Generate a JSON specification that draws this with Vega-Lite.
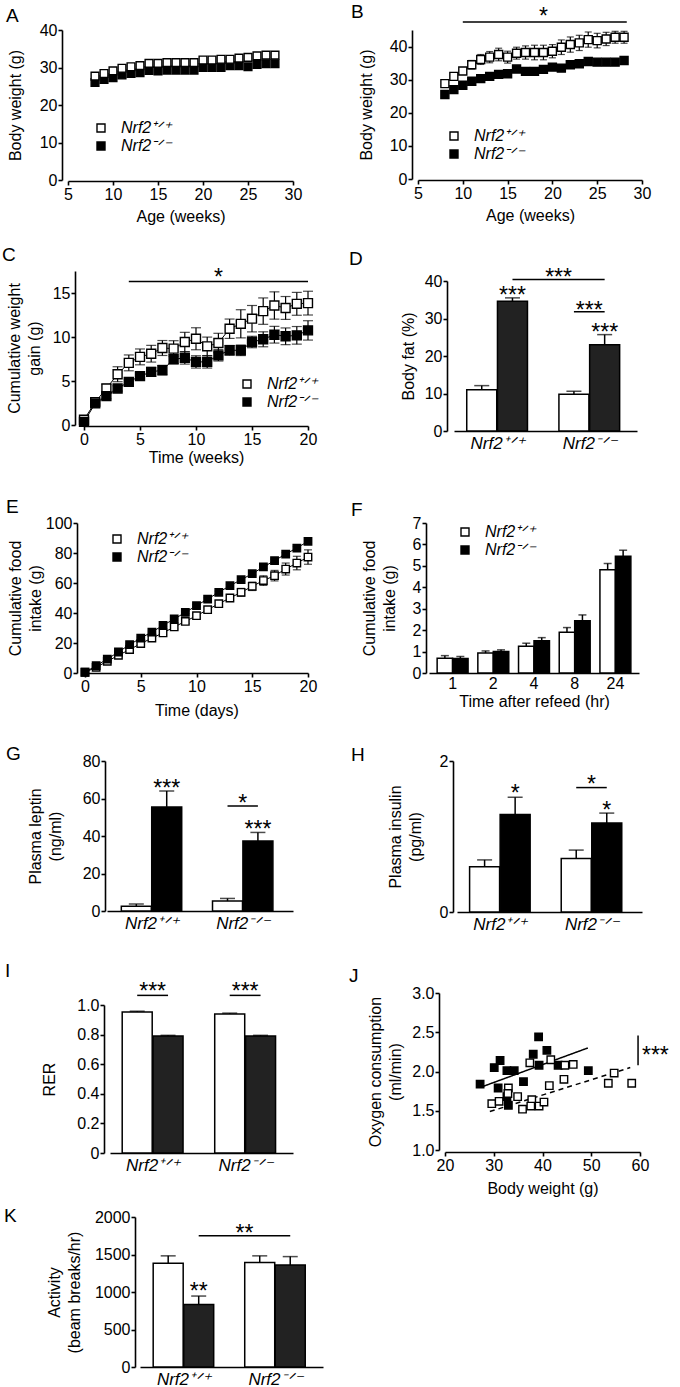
{
"$schema":"https://vega.github.io/schema/vega-lite/v6.json",
"background":"white","padding":0,"bounds":"flush","spacing":0,
"resolve":{"scale":{"fill":"independent","strokeDash":"independent"},"legend":{"fill":"independent","strokeDash":"independent"}},
"datasets":{
"A":[{"week":8,"genotype":"Nrf2-/-","bw":26.0},{"week":9,"genotype":"Nrf2-/-","bw":26.8},{"week":10,"genotype":"Nrf2-/-","bw":27.3},{"week":11,"genotype":"Nrf2-/-","bw":28.0},{"week":12,"genotype":"Nrf2-/-","bw":28.4},{"week":13,"genotype":"Nrf2-/-","bw":28.6},{"week":14,"genotype":"Nrf2-/-","bw":29.2},{"week":15,"genotype":"Nrf2-/-","bw":29.1},{"week":16,"genotype":"Nrf2-/-","bw":29.3},{"week":17,"genotype":"Nrf2-/-","bw":29.3},{"week":18,"genotype":"Nrf2-/-","bw":29.3},{"week":19,"genotype":"Nrf2-/-","bw":29.3},{"week":20,"genotype":"Nrf2-/-","bw":30.0},{"week":21,"genotype":"Nrf2-/-","bw":30.0},{"week":22,"genotype":"Nrf2-/-","bw":30.0},{"week":23,"genotype":"Nrf2-/-","bw":30.5},{"week":24,"genotype":"Nrf2-/-","bw":30.5},{"week":25,"genotype":"Nrf2-/-","bw":30.2},{"week":26,"genotype":"Nrf2-/-","bw":30.8},{"week":27,"genotype":"Nrf2-/-","bw":31.0},{"week":28,"genotype":"Nrf2-/-","bw":31.0},
{"week":8,"genotype":"Nrf2+/+","bw":27.7},{"week":9,"genotype":"Nrf2+/+","bw":28.4},{"week":10,"genotype":"Nrf2+/+","bw":29.1},{"week":11,"genotype":"Nrf2+/+","bw":29.8},{"week":12,"genotype":"Nrf2+/+","bw":30.2},{"week":13,"genotype":"Nrf2+/+","bw":30.5},{"week":14,"genotype":"Nrf2+/+","bw":31.1},{"week":15,"genotype":"Nrf2+/+","bw":31.1},{"week":16,"genotype":"Nrf2+/+","bw":31.3},{"week":17,"genotype":"Nrf2+/+","bw":31.3},{"week":18,"genotype":"Nrf2+/+","bw":31.3},{"week":19,"genotype":"Nrf2+/+","bw":31.3},{"week":20,"genotype":"Nrf2+/+","bw":32.0},{"week":21,"genotype":"Nrf2+/+","bw":32.0},{"week":22,"genotype":"Nrf2+/+","bw":32.2},{"week":23,"genotype":"Nrf2+/+","bw":32.2},{"week":24,"genotype":"Nrf2+/+","bw":32.5},{"week":25,"genotype":"Nrf2+/+","bw":32.7},{"week":26,"genotype":"Nrf2+/+","bw":33.1},{"week":27,"genotype":"Nrf2+/+","bw":33.3},{"week":28,"genotype":"Nrf2+/+","bw":33.3}],
"B":[{"week":8,"genotype":"Nrf2+/+","bw":28.8,"err":0.6},{"week":9,"genotype":"Nrf2+/+","bw":31.0,"err":0.8},{"week":10,"genotype":"Nrf2+/+","bw":32.6,"err":1.0},{"week":11,"genotype":"Nrf2+/+","bw":34.5,"err":1.3},{"week":12,"genotype":"Nrf2+/+","bw":36.1,"err":1.5},{"week":13,"genotype":"Nrf2+/+","bw":36.8,"err":1.7},{"week":14,"genotype":"Nrf2+/+","bw":37.6,"err":1.9},{"week":15,"genotype":"Nrf2+/+","bw":36.8,"err":1.8},{"week":16,"genotype":"Nrf2+/+","bw":38.0,"err":1.8},{"week":17,"genotype":"Nrf2+/+","bw":38.2,"err":2.0},{"week":18,"genotype":"Nrf2+/+","bw":38.2,"err":2.2},{"week":19,"genotype":"Nrf2+/+","bw":38.2,"err":2.2},{"week":20,"genotype":"Nrf2+/+","bw":38.6,"err":2.0},{"week":21,"genotype":"Nrf2+/+","bw":39.8,"err":2.2},{"week":22,"genotype":"Nrf2+/+","bw":40.6,"err":2.3},{"week":23,"genotype":"Nrf2+/+","bw":41.1,"err":2.3},{"week":24,"genotype":"Nrf2+/+","bw":42.1,"err":2.3},{"week":25,"genotype":"Nrf2+/+","bw":41.8,"err":2.2},{"week":26,"genotype":"Nrf2+/+","bw":42.3,"err":2.0},{"week":27,"genotype":"Nrf2+/+","bw":42.8,"err":1.8},{"week":28,"genotype":"Nrf2+/+","bw":42.8,"err":1.8},
{"week":8,"genotype":"Nrf2-/-","bw":25.5,"err":0.5},{"week":9,"genotype":"Nrf2-/-","bw":27.0,"err":0.6},{"week":10,"genotype":"Nrf2-/-","bw":28.3,"err":0.7},{"week":11,"genotype":"Nrf2-/-","bw":29.5,"err":0.7},{"week":12,"genotype":"Nrf2-/-","bw":30.3,"err":0.8},{"week":13,"genotype":"Nrf2-/-","bw":31.0,"err":0.8},{"week":14,"genotype":"Nrf2-/-","bw":31.6,"err":0.8},{"week":15,"genotype":"Nrf2-/-","bw":31.8,"err":0.8},{"week":16,"genotype":"Nrf2-/-","bw":33.2,"err":0.8},{"week":17,"genotype":"Nrf2-/-","bw":32.5,"err":0.9},{"week":18,"genotype":"Nrf2-/-","bw":32.5,"err":0.9},{"week":19,"genotype":"Nrf2-/-","bw":33.1,"err":0.9},{"week":20,"genotype":"Nrf2-/-","bw":33.8,"err":0.9},{"week":21,"genotype":"Nrf2-/-","bw":33.5,"err":0.9},{"week":22,"genotype":"Nrf2-/-","bw":34.5,"err":0.9},{"week":23,"genotype":"Nrf2-/-","bw":34.8,"err":0.9},{"week":24,"genotype":"Nrf2-/-","bw":35.5,"err":0.9},{"week":25,"genotype":"Nrf2-/-","bw":35.3,"err":0.9},{"week":26,"genotype":"Nrf2-/-","bw":35.3,"err":0.9},{"week":27,"genotype":"Nrf2-/-","bw":35.3,"err":0.9},{"week":28,"genotype":"Nrf2-/-","bw":35.8,"err":0.9}],
"Bsig":[{"week":10,"week2":28.3,"bw":47.4}],
"Btxt":[{"week":19,"bw":46.7,"label":"*"}],
"C":[{"week":0,"genotype":"Nrf2+/+","gain":0.6,"err":0.1},{"week":1,"genotype":"Nrf2+/+","gain":2.6,"err":0.2},{"week":2,"genotype":"Nrf2+/+","gain":4.15,"err":0.47},{"week":3,"genotype":"Nrf2+/+","gain":5.77,"err":0.85},{"week":4,"genotype":"Nrf2+/+","gain":7.06,"err":0.9},{"week":5,"genotype":"Nrf2+/+","gain":7.74,"err":0.9},{"week":6,"genotype":"Nrf2+/+","gain":8.1,"err":0.95},{"week":7,"genotype":"Nrf2+/+","gain":8.75,"err":0.85},{"week":8,"genotype":"Nrf2+/+","gain":8.68,"err":0.9},{"week":9,"genotype":"Nrf2+/+","gain":9.43,"err":1.1},{"week":10,"genotype":"Nrf2+/+","gain":9.8,"err":1.25},{"week":11,"genotype":"Nrf2+/+","gain":8.94,"err":1.05},{"week":12,"genotype":"Nrf2+/+","gain":9.32,"err":1.1},{"week":13,"genotype":"Nrf2+/+","gain":10.94,"err":1.1},{"week":14,"genotype":"Nrf2+/+","gain":11.5,"err":1.6},{"week":15,"genotype":"Nrf2+/+","gain":12.08,"err":1.5},{"week":16,"genotype":"Nrf2+/+","gain":12.94,"err":1.5},{"week":17,"genotype":"Nrf2+/+","gain":13.58,"err":1.55},{"week":18,"genotype":"Nrf2+/+","gain":13.3,"err":1.3},{"week":19,"genotype":"Nrf2+/+","gain":13.77,"err":1.3},{"week":20,"genotype":"Nrf2+/+","gain":13.85,"err":1.35},
{"week":0,"genotype":"Nrf2-/-","gain":0.35,"err":0.1},{"week":1,"genotype":"Nrf2-/-","gain":2.45,"err":0.2},{"week":2,"genotype":"Nrf2-/-","gain":3.28,"err":0.3},{"week":3,"genotype":"Nrf2-/-","gain":4.15,"err":0.3},{"week":4,"genotype":"Nrf2-/-","gain":4.9,"err":0.3},{"week":5,"genotype":"Nrf2-/-","gain":5.55,"err":0.35},{"week":6,"genotype":"Nrf2-/-","gain":6.04,"err":0.5},{"week":7,"genotype":"Nrf2-/-","gain":6.23,"err":0.55},{"week":8,"genotype":"Nrf2-/-","gain":7.47,"err":0.5},{"week":9,"genotype":"Nrf2-/-","gain":7.62,"err":0.7},{"week":10,"genotype":"Nrf2-/-","gain":7.17,"err":0.7},{"week":11,"genotype":"Nrf2-/-","gain":7.17,"err":0.7},{"week":12,"genotype":"Nrf2-/-","gain":7.92,"err":0.65},{"week":13,"genotype":"Nrf2-/-","gain":8.49,"err":0.55},{"week":14,"genotype":"Nrf2-/-","gain":8.49,"err":0.6},{"week":15,"genotype":"Nrf2-/-","gain":9.43,"err":0.65},{"week":16,"genotype":"Nrf2-/-","gain":9.74,"err":0.85},{"week":17,"genotype":"Nrf2-/-","gain":10.26,"err":0.95},{"week":18,"genotype":"Nrf2-/-","gain":10.08,"err":0.95},{"week":19,"genotype":"Nrf2-/-","gain":10.19,"err":1.0},{"week":20,"genotype":"Nrf2-/-","gain":10.75,"err":1.1}],
"Csig":[{"week":4,"week2":20,"gain":16.3}],
"Ctxt":[{"week":12,"gain":15.9,"label":"*"}],
"D":[{"slot":1,"genotype":"Nrf2+/+","diet":"Chow","fat":11.0,"upper":12.1},{"slot":2,"genotype":"Nrf2+/+","diet":"HFD","fat":34.6,"upper":35.5},{"slot":4,"genotype":"Nrf2-/-","diet":"Chow","fat":9.8,"upper":10.6},{"slot":5,"genotype":"Nrf2-/-","diet":"HFD","fat":23.0,"upper":25.7}],
"Dsig":[{"slot":2,"slot2":5,"fat":40.4},{"slot":4,"slot2":5,"fat":31.8}],
"Dtxt":[{"slot":2,"fat":34.1,"label":"***"},{"slot":3.5,"fat":39.0,"label":"***"},{"slot":4.5,"fat":30.1,"label":"***"},{"slot":5,"fat":24.3,"label":"***"}],
"E":[{"day":0,"genotype":"Nrf2+/+","intake":0.5,"err":0.3},{"day":1,"genotype":"Nrf2+/+","intake":3.8,"err":0.5},{"day":2,"genotype":"Nrf2+/+","intake":7.8,"err":0.6},{"day":3,"genotype":"Nrf2+/+","intake":11.8,"err":0.8},{"day":4,"genotype":"Nrf2+/+","intake":15.6,"err":0.9},{"day":5,"genotype":"Nrf2+/+","intake":19.6,"err":1.0},{"day":6,"genotype":"Nrf2+/+","intake":23.3,"err":1.1},{"day":7,"genotype":"Nrf2+/+","intake":26.7,"err":1.2},{"day":8,"genotype":"Nrf2+/+","intake":30.7,"err":1.3},{"day":9,"genotype":"Nrf2+/+","intake":34.4,"err":1.4},{"day":10,"genotype":"Nrf2+/+","intake":38.2,"err":1.5},{"day":11,"genotype":"Nrf2+/+","intake":42.2,"err":1.7},{"day":12,"genotype":"Nrf2+/+","intake":46.2,"err":2.0},{"day":13,"genotype":"Nrf2+/+","intake":50.0,"err":2.3},{"day":14,"genotype":"Nrf2+/+","intake":53.8,"err":2.6},{"day":15,"genotype":"Nrf2+/+","intake":57.8,"err":2.8},{"day":16,"genotype":"Nrf2+/+","intake":61.6,"err":3.2},{"day":17,"genotype":"Nrf2+/+","intake":64.9,"err":3.5},{"day":18,"genotype":"Nrf2+/+","intake":69.3,"err":4.0},{"day":19,"genotype":"Nrf2+/+","intake":73.3,"err":4.5},{"day":20,"genotype":"Nrf2+/+","intake":77.3,"err":4.8},
{"day":0,"genotype":"Nrf2-/-","intake":0.5,"err":0.3},{"day":1,"genotype":"Nrf2-/-","intake":4.9,"err":0.4},{"day":2,"genotype":"Nrf2-/-","intake":9.3,"err":0.5},{"day":3,"genotype":"Nrf2-/-","intake":14.0,"err":0.5},{"day":4,"genotype":"Nrf2-/-","intake":18.9,"err":0.5},{"day":5,"genotype":"Nrf2-/-","intake":23.3,"err":0.6},{"day":6,"genotype":"Nrf2-/-","intake":27.3,"err":0.6},{"day":7,"genotype":"Nrf2-/-","intake":31.8,"err":0.6},{"day":8,"genotype":"Nrf2-/-","intake":36.0,"err":0.7},{"day":9,"genotype":"Nrf2-/-","intake":40.4,"err":0.7},{"day":10,"genotype":"Nrf2-/-","intake":44.9,"err":0.7},{"day":11,"genotype":"Nrf2-/-","intake":49.3,"err":0.8},{"day":12,"genotype":"Nrf2-/-","intake":53.8,"err":0.8},{"day":13,"genotype":"Nrf2-/-","intake":58.2,"err":0.8},{"day":14,"genotype":"Nrf2-/-","intake":62.2,"err":0.9},{"day":15,"genotype":"Nrf2-/-","intake":66.2,"err":0.9},{"day":16,"genotype":"Nrf2-/-","intake":70.7,"err":0.9},{"day":17,"genotype":"Nrf2-/-","intake":74.9,"err":1.0},{"day":18,"genotype":"Nrf2-/-","intake":79.3,"err":1.0},{"day":19,"genotype":"Nrf2-/-","intake":83.3,"err":1.0},{"day":20,"genotype":"Nrf2-/-","intake":87.8,"err":1.0}],
"F":[{"time":"1","genotype":"Nrf2+/+","intake":0.69,"upper":0.81},{"time":"1","genotype":"Nrf2-/-","intake":0.68,"upper":0.77},{"time":"2","genotype":"Nrf2+/+","intake":0.93,"upper":1.03},{"time":"2","genotype":"Nrf2-/-","intake":1.0,"upper":1.08},{"time":"4","genotype":"Nrf2+/+","intake":1.25,"upper":1.39},{"time":"4","genotype":"Nrf2-/-","intake":1.5,"upper":1.65},{"time":"8","genotype":"Nrf2+/+","intake":1.9,"upper":2.12},{"time":"8","genotype":"Nrf2-/-","intake":2.44,"upper":2.71},{"time":"24","genotype":"Nrf2+/+","intake":4.82,"upper":5.11},{"time":"24","genotype":"Nrf2-/-","intake":5.45,"upper":5.73}],
"G":[{"slot":1,"genotype":"Nrf2+/+","diet":"Chow","leptin":2.6,"upper":3.7},{"slot":2,"genotype":"Nrf2+/+","diet":"HFD","leptin":55.5,"upper":64.0},{"slot":4,"genotype":"Nrf2-/-","diet":"Chow","leptin":5.3,"upper":6.7},{"slot":5,"genotype":"Nrf2-/-","diet":"HFD","leptin":37.4,"upper":41.9}],
"Gsig":[{"slot":4,"slot2":5,"leptin":56.0}],
"Gtxt":[{"slot":2,"leptin":61.5,"label":"***"},{"slot":4.5,"leptin":53.3,"label":"*"},{"slot":5,"leptin":39.3,"label":"***"}],
"H":[{"slot":1,"genotype":"Nrf2+/+","diet":"Chow","insulin":0.6,"upper":0.69},{"slot":2,"genotype":"Nrf2+/+","diet":"HFD","insulin":1.29,"upper":1.52},{"slot":4,"genotype":"Nrf2-/-","diet":"Chow","insulin":0.71,"upper":0.82},{"slot":5,"genotype":"Nrf2-/-","diet":"HFD","insulin":1.18,"upper":1.31}],
"Hsig":[{"slot":4,"slot2":5,"insulin":1.648}],
"Htxt":[{"slot":2,"insulin":1.473,"label":"*"},{"slot":4.5,"insulin":1.592,"label":"*"},{"slot":5,"insulin":1.248,"label":"*"}],
"I":[{"slot":1,"genotype":"Nrf2+/+","diet":"Chow","rer":0.953,"upper":0.958},{"slot":2,"genotype":"Nrf2+/+","diet":"HFD","rer":0.79,"upper":0.795},{"slot":4,"genotype":"Nrf2-/-","diet":"Chow","rer":0.94,"upper":0.945},{"slot":5,"genotype":"Nrf2-/-","diet":"HFD","rer":0.79,"upper":0.795}],
"Isig":[{"slot":1,"slot2":2,"rer":1.065},{"slot":4,"slot2":5,"rer":1.065}],
"Itxt":[{"slot":1.5,"rer":1.041,"label":"***"},{"slot":4.5,"rer":1.041,"label":"***"}],
"J":[{"bw":27.2,"o2":1.84,"genotype":"Nrf2-/-"},{"bw":30.1,"o2":2.05,"genotype":"Nrf2-/-"},{"bw":31.3,"o2":2.14,"genotype":"Nrf2-/-"},{"bw":30.9,"o2":1.79,"genotype":"Nrf2-/-"},{"bw":32.7,"o2":2.01,"genotype":"Nrf2-/-"},{"bw":34.2,"o2":2.01,"genotype":"Nrf2-/-"},{"bw":32.7,"o2":1.68,"genotype":"Nrf2-/-"},{"bw":33.0,"o2":1.57,"genotype":"Nrf2-/-"},{"bw":36.1,"o2":1.87,"genotype":"Nrf2-/-"},{"bw":38.1,"o2":2.22,"genotype":"Nrf2-/-"},{"bw":39.2,"o2":2.44,"genotype":"Nrf2-/-"},{"bw":40.9,"o2":2.27,"genotype":"Nrf2-/-"},{"bw":39.3,"o2":2.08,"genotype":"Nrf2-/-"},{"bw":43.2,"o2":2.08,"genotype":"Nrf2-/-"},{"bw":49.4,"o2":2.01,"genotype":"Nrf2-/-"},
{"bw":29.6,"o2":1.59,"genotype":"Nrf2+/+"},{"bw":31.1,"o2":1.62,"genotype":"Nrf2+/+"},{"bw":33.0,"o2":1.79,"genotype":"Nrf2+/+"},{"bw":32.9,"o2":1.72,"genotype":"Nrf2+/+"},{"bw":34.9,"o2":1.68,"genotype":"Nrf2+/+"},{"bw":35.9,"o2":1.52,"genotype":"Nrf2+/+"},{"bw":37.8,"o2":1.64,"genotype":"Nrf2+/+"},{"bw":37.6,"o2":1.56,"genotype":"Nrf2+/+"},{"bw":39.3,"o2":1.56,"genotype":"Nrf2+/+"},{"bw":40.3,"o2":1.61,"genotype":"Nrf2+/+"},{"bw":37.4,"o2":2.11,"genotype":"Nrf2+/+"},{"bw":41.7,"o2":2.15,"genotype":"Nrf2+/+"},{"bw":44.6,"o2":2.08,"genotype":"Nrf2+/+"},{"bw":46.3,"o2":2.09,"genotype":"Nrf2+/+"},{"bw":41.4,"o2":1.82,"genotype":"Nrf2+/+"},{"bw":44.4,"o2":1.90,"genotype":"Nrf2+/+"},{"bw":53.5,"o2":1.85,"genotype":"Nrf2+/+"},{"bw":54.7,"o2":1.98,"genotype":"Nrf2+/+"},{"bw":58.3,"o2":1.85,"genotype":"Nrf2+/+"}],
"Jfit":[{"bw":27.8,"o2":1.81,"genotype":"Nrf2-/-"},{"bw":49.3,"o2":2.30,"genotype":"Nrf2-/-"},{"bw":29.2,"o2":1.49,"genotype":"Nrf2+/+"},{"bw":58.0,"o2":2.05,"genotype":"Nrf2+/+"}],
"Jsig":[{"bw":59.6,"o2":2.46,"o2b":2.08}],
"Jtxt":[{"bw":60.4,"o2":2.106,"label":"***"}],
"K":[{"slot":1,"genotype":"Nrf2+/+","diet":"Chow","activity":1384,"upper":1482},{"slot":2,"genotype":"Nrf2+/+","diet":"HFD","activity":835,"upper":946},{"slot":4,"genotype":"Nrf2-/-","diet":"Chow","activity":1392,"upper":1482},{"slot":5,"genotype":"Nrf2-/-","diet":"HFD","activity":1361,"upper":1472}],
"Ksig":[{"slot":2,"slot2":5,"activity":1750}],
"Ktxt":[{"slot":2,"activity":904,"label":"**"},{"slot":3.5,"activity":1676,"label":"**"}]
},
"vconcat":[
{"width":1,"height":30,"data":{"values":[]},"mark":"point"},
{"hconcat":[{"width":68,"height":1,"data":{"values":[]},"mark":"point"},
{"width":225,"height":150,"title":{"text":"A","dx":-62,"dy":7.5},"data":{"name":"A"},
 "mark":{"type":"point","shape":"square","filled":true,"opacity":1,"stroke":"black","strokeWidth":1.4,"size":60},
 "encoding":{
  "x":{"field":"week","type":"quantitative","scale":{"domain":[5,30],"nice":false,"zero":false},"axis":{"values":[5,10,15,20,25,30],"title":"Age (weeks)","offset":1,"titlePadding":6}},
  "y":{"field":"bw","type":"quantitative","scale":{"domain":[0,40],"nice":false,"zero":false},"axis":{"values":[0,10,20,30,40],"title":"Body weight (g)","offset":6,"titlePadding":16}},
  "fill":{"field":"genotype","type":"nominal","scale":{"domain":["Nrf2+/+","Nrf2-/-"],"range":["white","black"]},"legend":{"title":null,"legendX":25,"legendY":90,"labelExpr":"datum.value == 'Nrf2+/+' ? 'Nrf2⁺ᐟ⁺' : 'Nrf2⁻ᐟ⁻'"}}}}],
 "bounds":"flush","spacing":0,"resolve":{"scale":{"fill":"independent"},"legend":{"fill":"independent"}}},
{"hconcat":[{"width":418,"height":1,"data":{"values":[]},"mark":"point"},
{"width":224,"height":149,"title":{"text":"B","dx":-67,"dy":20},
 "encoding":{
  "x":{"field":"week","type":"quantitative","scale":{"domain":[5,30],"nice":false,"zero":false},"axis":{"values":[5,10,15,20,25,30],"title":"Age (weeks)","offset":1,"titlePadding":6}},
  "y":{"field":"bw","type":"quantitative","scale":{"domain":[0,45],"nice":false,"zero":false},"axis":{"values":[0,10,20,30,40],"title":"Body weight (g)","offset":6,"titlePadding":15}}},
 "layer":[
  {"data":{"name":"B"},"mark":{"type":"errorbar","ticks":{"size":7},"thickness":1.2,"color":"black"},"encoding":{"yError":{"field":"err"}}},
  {"data":{"name":"B"},"mark":{"type":"point","shape":"square","filled":true,"opacity":1,"stroke":"black","strokeWidth":1.4,"size":64},
   "encoding":{"fill":{"field":"genotype","type":"nominal","scale":{"domain":["Nrf2+/+","Nrf2-/-"],"range":["white","black"]},"legend":{"title":null,"legendX":28,"legendY":98,"labelExpr":"datum.value == 'Nrf2+/+' ? 'Nrf2⁺ᐟ⁺' : 'Nrf2⁻ᐟ⁻'"}}}},
  {"data":{"name":"Bsig"},"mark":{"type":"rule","strokeWidth":1.5,"color":"black"},"encoding":{"x2":{"field":"week2"}}},
  {"data":{"name":"Btxt"},"mark":{"type":"text","fontSize":23,"baseline":"alphabetic","color":"black"},"encoding":{"text":{"field":"label"}}}
 ]}],
 "bounds":"flush","spacing":0,"resolve":{"scale":{"fill":"independent"},"legend":{"fill":"independent"}}},
{"width":1,"height":241,"data":{"values":[]},"mark":"point"},
{"hconcat":[{"width":84,"height":1,"data":{"values":[]},"mark":"point"},
{"width":224,"height":154,"title":{"text":"C","dx":-82,"dy":2},
 "encoding":{
  "x":{"field":"week","type":"quantitative","scale":{"domain":[0,20],"nice":false,"zero":false},"axis":{"values":[0,5,10,15,20],"title":"Time (weeks)","offset":1,"titlePadding":2}},
  "y":{"field":"gain","type":"quantitative","scale":{"domain":[0,17.5],"nice":false,"zero":false},"axis":{"values":[0,5,10,15],"title":["Cumulative weight","gain (g)"],"offset":9,"titlePadding":10}}},
 "layer":[
  {"data":{"name":"C"},"mark":{"type":"line","color":"black","strokeWidth":1},"encoding":{"detail":{"field":"genotype"}}},
  {"data":{"name":"C"},"mark":{"type":"errorbar","ticks":{"size":10},"thickness":1.2,"color":"black"},"encoding":{"yError":{"field":"err"}}},
  {"data":{"name":"C"},"mark":{"type":"point","shape":"square","filled":true,"opacity":1,"stroke":"black","strokeWidth":1.4,"size":80},
   "encoding":{"fill":{"field":"genotype","type":"nominal","scale":{"domain":["Nrf2+/+","Nrf2-/-"],"range":["white","black"]},"legend":{"title":null,"legendX":155,"legendY":105,"labelExpr":"datum.value == 'Nrf2+/+' ? 'Nrf2⁺ᐟ⁺' : 'Nrf2⁻ᐟ⁻'"}}}},
  {"data":{"name":"Csig"},"mark":{"type":"rule","strokeWidth":1.5,"color":"black"},"encoding":{"x2":{"field":"week2"}}},
  {"data":{"name":"Ctxt"},"mark":{"type":"text","fontSize":23,"baseline":"alphabetic","color":"black"},"encoding":{"text":{"field":"label"}}}
 ]}],
 "bounds":"flush","spacing":0,"resolve":{"scale":{"fill":"independent"},"legend":{"fill":"independent"}}},
{"width":1,"height":10,"data":{"values":[]},"mark":"point"},
{"hconcat":[{"width":454,"height":1,"data":{"values":[]},"mark":"point"},
{"width":183,"height":150,"title":{"text":"D","dx":-105,"dy":6},
 "encoding":{
  "x":{"field":"slot","type":"quantitative","scale":{"domain":[0.26,5.89],"nice":false,"zero":false},"axis":{"values":[1.5,4.5],"labelExpr":"datum.value < 3 ? 'Nrf2⁺ᐟ⁺' : 'Nrf2⁻ᐟ⁻'","ticks":false,"title":null,"labelFontStyle":"italic","labelPadding":4,"labelFontSize":17}},
  "y":{"field":"fat","type":"quantitative","scale":{"domain":[0,40],"nice":false,"zero":false},"axis":{"values":[0,10,20,30,40],"title":"Body fat (%)","offset":7,"titlePadding":8}}},
 "layer":[
  {"data":{"name":"D"},"mark":{"type":"bar","orient":"vertical","size":30,"stroke":"black","strokeWidth":1.5},"encoding":{"fill":{"field":"diet","type":"nominal","scale":{"domain":["Chow","HFD"],"range":["white","#222222"]},"legend":null}}},
  {"data":{"name":"D"},"mark":{"type":"rule","strokeWidth":1.5,"color":"black"},"encoding":{"y2":{"field":"upper"}}},
  {"data":{"name":"D"},"mark":{"type":"tick","orient":"horizontal","size":15,"thickness":1.5,"color":"black"},"encoding":{"y":{"field":"upper","type":"quantitative"}}},
  {"data":{"name":"Dsig"},"mark":{"type":"rule","strokeWidth":1.5,"color":"black"},"encoding":{"x2":{"field":"slot2"}}},
  {"data":{"name":"Dtxt"},"mark":{"type":"text","fontSize":23,"baseline":"alphabetic","color":"black"},"encoding":{"text":{"field":"label"}}}
 ]}],
 "bounds":"flush","spacing":0},
{"width":1,"height":242,"data":{"values":[]},"mark":"point"},
{"hconcat":[{"width":85,"height":1,"data":{"values":[]},"mark":"point"},
{"width":223,"height":150,"title":{"text":"E","dx":-79,"dy":6},
 "encoding":{
  "x":{"field":"day","type":"quantitative","scale":{"domain":[0,20],"nice":false,"zero":false},"axis":{"values":[0,5,10,15,20],"title":"Time (days)","offset":0,"titlePadding":8}},
  "y":{"field":"intake","type":"quantitative","scale":{"domain":[0,100],"nice":false,"zero":false},"axis":{"values":[0,20,40,60,80,100],"title":["Cumulative food","intake (g)"],"offset":8,"titlePadding":2}}},
 "layer":[
  {"data":{"name":"E"},"mark":{"type":"line","color":"black","strokeWidth":1},"encoding":{"detail":{"field":"genotype"}}},
  {"data":{"name":"E"},"mark":{"type":"errorbar","ticks":{"size":8},"thickness":1.2,"color":"black"},"encoding":{"yError":{"field":"err"}}},
  {"data":{"name":"E"},"mark":{"type":"point","shape":"square","filled":true,"opacity":1,"stroke":"black","strokeWidth":1.4,"size":55},
   "encoding":{"fill":{"field":"genotype","type":"nominal","scale":{"domain":["Nrf2+/+","Nrf2-/-"],"range":["white","black"]},"legend":{"title":null,"legendX":24,"legendY":8,"labelExpr":"datum.value == 'Nrf2+/+' ? 'Nrf2⁺ᐟ⁺' : 'Nrf2⁻ᐟ⁻'"}}}}
 ]}],
 "bounds":"flush","spacing":0,"resolve":{"scale":{"fill":"independent"},"legend":{"fill":"independent"}}},
{"hconcat":[{"width":429,"height":1,"data":{"values":[]},"mark":"point"},
{"width":210,"height":150,"title":{"text":"F","dx":-78,"dy":9},"data":{"name":"F"},
 "encoding":{
  "x":{"field":"time","type":"nominal","sort":null,"scale":{"paddingInner":0.24,"paddingOuter":0.2},"axis":{"title":"Time after refeed (hr)","ticks":false,"labelAngle":0,"labelPadding":2,"titlePadding":2}},
  "xOffset":{"field":"genotype","type":"nominal","sort":["Nrf2+/+","Nrf2-/-"],"scale":{"paddingInner":0,"paddingOuter":0}},
  "y":{"field":"intake","type":"quantitative","scale":{"domain":[0,7],"nice":false,"zero":false},"axis":{"values":[0,1,2,3,4,5,6,7],"title":["Cumulative food","intake (g)"],"offset":3,"titlePadding":15}}},
 "layer":[
  {"mark":{"type":"bar","stroke":"black","strokeWidth":1.5},
   "encoding":{"fill":{"field":"genotype","type":"nominal","scale":{"domain":["Nrf2+/+","Nrf2-/-"],"range":["white","black"]},"legend":{"title":null,"legendX":28,"legendY":1,"labelExpr":"datum.value == 'Nrf2+/+' ? 'Nrf2⁺ᐟ⁺' : 'Nrf2⁻ᐟ⁻'"}}}},
  {"mark":{"type":"rule","strokeWidth":1.5,"color":"black"},"encoding":{"y2":{"field":"upper"}}},
  {"mark":{"type":"tick","orient":"horizontal","size":8,"thickness":1.5,"color":"black"},"encoding":{"y":{"field":"upper","type":"quantitative"}}}
 ]}],
 "bounds":"flush","spacing":0,"resolve":{"scale":{"fill":"independent"},"legend":{"fill":"independent"}}},
{"width":1,"height":238,"data":{"values":[]},"mark":"point"},
{"hconcat":[{"width":107,"height":1,"data":{"values":[]},"mark":"point"},
{"width":186,"height":150,"title":{"text":"G","dx":-101,"dy":15},
 "encoding":{
  "x":{"field":"slot","type":"quantitative","scale":{"domain":[0.2,5.99],"nice":false,"zero":false},"axis":{"values":[1.5,4.5],"labelExpr":"datum.value < 3 ? 'Nrf2⁺ᐟ⁺' : 'Nrf2⁻ᐟ⁻'","ticks":false,"title":null,"labelFontStyle":"italic","labelPadding":4,"labelFontSize":17}},
  "y":{"field":"leptin","type":"quantitative","scale":{"domain":[0,80],"nice":false,"zero":false},"axis":{"values":[0,20,40,60,80],"title":["Plasma leptin","(ng/ml)"],"offset":2,"titlePadding":19}}},
 "layer":[
  {"data":{"name":"G"},"mark":{"type":"bar","orient":"vertical","size":30,"stroke":"black","strokeWidth":1.5},"encoding":{"fill":{"field":"diet","type":"nominal","scale":{"domain":["Chow","HFD"],"range":["white","black"]},"legend":null}}},
  {"data":{"name":"G"},"mark":{"type":"rule","strokeWidth":1.5,"color":"black"},"encoding":{"y2":{"field":"upper"}}},
  {"data":{"name":"G"},"mark":{"type":"tick","orient":"horizontal","size":15,"thickness":1.5,"color":"black"},"encoding":{"y":{"field":"upper","type":"quantitative"}}},
  {"data":{"name":"Gsig"},"mark":{"type":"rule","strokeWidth":1.5,"color":"black"},"encoding":{"x2":{"field":"slot2"}}},
  {"data":{"name":"Gtxt"},"mark":{"type":"text","fontSize":23,"baseline":"alphabetic","color":"black"},"encoding":{"text":{"field":"label"}}}
 ]}],
 "bounds":"flush","spacing":0},
{"hconcat":[{"width":457,"height":1,"data":{"values":[]},"mark":"point"},
{"width":185,"height":151,"title":{"text":"H","dx":-106,"dy":16},
 "encoding":{
  "x":{"field":"slot","type":"quantitative","scale":{"domain":[0.26,5.99],"nice":false,"zero":false},"axis":{"values":[1.5,4.5],"labelExpr":"datum.value < 3 ? 'Nrf2⁺ᐟ⁺' : 'Nrf2⁻ᐟ⁻'","ticks":false,"title":null,"labelFontStyle":"italic","labelPadding":4,"labelFontSize":17}},
  "y":{"field":"insulin","type":"quantitative","scale":{"domain":[0,2],"nice":false,"zero":false},"axis":{"values":[0,1,2],"format":"d","title":["Plasma insulin","(pg/ml)"],"offset":4,"titlePadding":16}}},
 "layer":[
  {"data":{"name":"H"},"mark":{"type":"bar","orient":"vertical","size":30,"stroke":"black","strokeWidth":1.5},"encoding":{"fill":{"field":"diet","type":"nominal","scale":{"domain":["Chow","HFD"],"range":["white","black"]},"legend":null}}},
  {"data":{"name":"H"},"mark":{"type":"rule","strokeWidth":1.5,"color":"black"},"encoding":{"y2":{"field":"upper"}}},
  {"data":{"name":"H"},"mark":{"type":"tick","orient":"horizontal","size":15,"thickness":1.5,"color":"black"},"encoding":{"y":{"field":"upper","type":"quantitative"}}},
  {"data":{"name":"Hsig"},"mark":{"type":"rule","strokeWidth":1.5,"color":"black"},"encoding":{"x2":{"field":"slot2"}}},
  {"data":{"name":"Htxt"},"mark":{"type":"text","fontSize":23,"baseline":"alphabetic","color":"black"},"encoding":{"text":{"field":"label"}}}
 ]}],
 "bounds":"flush","spacing":0},
{"width":1,"height":232,"data":{"values":[]},"mark":"point"},
{"hconcat":[{"width":445,"height":1,"data":{"values":[]},"mark":"point"},
{"width":195,"height":157,"title":{"text":"J","dx":-96,"dy":5},
 "encoding":{
  "x":{"field":"bw","type":"quantitative","scale":{"domain":[20,60],"nice":false,"zero":false},"axis":{"values":[20,30,40,50,60],"title":"Body weight (g)","offset":2,"titlePadding":7}},
  "y":{"field":"o2","type":"quantitative","scale":{"domain":[1,3],"nice":false,"zero":false},"axis":{"values":[1,1.5,2,2.5,3],"format":".1f","title":["Oxygen consumption","(ml/min)"],"offset":6,"titlePadding":8}}},
 "layer":[
  {"data":{"name":"Jfit"},"mark":{"type":"line","color":"black","strokeWidth":1.5},"encoding":{"strokeDash":{"field":"genotype","type":"nominal","scale":{"domain":["Nrf2+/+","Nrf2-/-"],"range":[[5,4],[1,0]]},"legend":null}}},
  {"data":{"name":"J"},"mark":{"type":"point","shape":"square","filled":true,"opacity":1,"stroke":"black","strokeWidth":1.4,"size":55},
   "encoding":{"fill":{"field":"genotype","type":"nominal","scale":{"domain":["Nrf2+/+","Nrf2-/-"],"range":["white","black"]},"legend":{"title":null,"legendX":16,"legendY":-8,"rowPadding":0,"labelExpr":"datum.value == 'Nrf2+/+' ? 'Nrf2⁺ᐟ⁺' : 'Nrf2⁻ᐟ⁻'"}}}},
  {"data":{"name":"Jsig"},"mark":{"type":"rule","strokeWidth":1.5,"color":"black"},"encoding":{"y2":{"field":"o2b"}}},
  {"data":{"name":"Jtxt"},"mark":{"type":"text","fontSize":23,"baseline":"alphabetic","align":"left","color":"black"},"encoding":{"text":{"field":"label"}}}
 ]}],
 "bounds":"flush","spacing":0,"resolve":{"scale":{"fill":"independent","strokeDash":"independent"},"legend":{"fill":"independent","strokeDash":"independent"}}},
{"width":1,"height":12,"data":{"values":[]},"mark":"point"},
{"hconcat":[{"width":110,"height":1,"data":{"values":[]},"mark":"point"},
{"width":183,"height":148,"title":{"text":"I","dx":-105,"dy":4},
 "encoding":{
  "x":{"field":"slot","type":"quantitative","scale":{"domain":[0.28,5.89],"nice":false,"zero":false},"axis":{"values":[1.5,4.5],"labelExpr":"datum.value < 3 ? 'Nrf2⁺ᐟ⁺' : 'Nrf2⁻ᐟ⁻'","ticks":false,"title":null,"labelFontStyle":"italic","labelPadding":4,"labelFontSize":17}},
  "y":{"field":"rer","type":"quantitative","scale":{"domain":[0,1],"nice":false,"zero":false},"axis":{"values":[0,0.2,0.4,0.6,0.8,1],"labelExpr":"datum.value == 0 ? '0' : format(datum.value, '.1f')","title":"RER","offset":6,"titlePadding":19}}},
 "layer":[
  {"data":{"name":"I"},"mark":{"type":"bar","orient":"vertical","size":30,"stroke":"black","strokeWidth":1.5},"encoding":{"fill":{"field":"diet","type":"nominal","scale":{"domain":["Chow","HFD"],"range":["white","#222222"]},"legend":null}}},
  {"data":{"name":"I"},"mark":{"type":"rule","strokeWidth":1.5,"color":"black"},"encoding":{"y2":{"field":"upper"}}},
  {"data":{"name":"I"},"mark":{"type":"tick","orient":"horizontal","size":15,"thickness":1.5,"color":"black"},"encoding":{"y":{"field":"upper","type":"quantitative"}}},
  {"data":{"name":"Isig"},"mark":{"type":"rule","strokeWidth":1.5,"color":"black"},"encoding":{"x2":{"field":"slot2"}}},
  {"data":{"name":"Itxt"},"mark":{"type":"text","fontSize":23,"baseline":"alphabetic","color":"black"},"encoding":{"text":{"field":"label"}}}
 ]}],
 "bounds":"flush","spacing":0},
{"width":1,"height":212,"data":{"values":[]},"mark":"point"},
{"hconcat":[{"width":140,"height":1,"data":{"values":[]},"mark":"point"},
{"width":183,"height":150,"title":{"text":"K","dx":-136,"dy":21},
 "encoding":{
  "x":{"field":"slot","type":"quantitative","scale":{"domain":[0.24,5.91],"nice":false,"zero":false},"axis":{"values":[1.5,4.5],"labelExpr":"datum.value < 3 ? 'Nrf2⁺ᐟ⁺' : 'Nrf2⁻ᐟ⁻'","ticks":false,"title":null,"labelFontStyle":"italic","labelPadding":4,"labelFontSize":17}},
  "y":{"field":"activity","type":"quantitative","scale":{"domain":[0,2000],"nice":false,"zero":false},"axis":{"values":[0,500,1000,1500,2000],"format":"d","title":["Activity","(beam breaks/hr)"],"offset":5,"titlePadding":12}}},
 "layer":[
  {"data":{"name":"K"},"mark":{"type":"bar","orient":"vertical","size":30,"stroke":"black","strokeWidth":1.5},"encoding":{"fill":{"field":"diet","type":"nominal","scale":{"domain":["Chow","HFD"],"range":["white","#222222"]},"legend":null}}},
  {"data":{"name":"K"},"mark":{"type":"rule","strokeWidth":1.5,"color":"black"},"encoding":{"y2":{"field":"upper"}}},
  {"data":{"name":"K"},"mark":{"type":"tick","orient":"horizontal","size":15,"thickness":1.5,"color":"black"},"encoding":{"y":{"field":"upper","type":"quantitative"}}},
  {"data":{"name":"Ksig"},"mark":{"type":"rule","strokeWidth":1.5,"color":"black"},"encoding":{"x2":{"field":"slot2"}}},
  {"data":{"name":"Ktxt"},"mark":{"type":"text","fontSize":23,"baseline":"alphabetic","color":"black"},"encoding":{"text":{"field":"label"}}}
 ]}],
 "bounds":"flush","spacing":0}
],
"config":{
 "font":"Liberation Sans, Arial, sans-serif",
 "view":{"stroke":null},
 "axis":{"domainColor":"black","domainWidth":1.6,"tickColor":"black","tickWidth":1.6,"tickSize":4,"labelFont":"Liberation Sans, Arial, sans-serif","labelFontSize":16,"labelColor":"black","labelPadding":1,"labelFlush":false,"labelOverlap":false,"titleFont":"Liberation Sans, Arial, sans-serif","titleFontSize":16,"titleFontWeight":"normal","titleColor":"black","titlePadding":10,"titleLineHeight":20,"grid":false},
 "legend":{"orient":"none","padding":0,"symbolType":"square","symbolSize":64,"symbolStrokeColor":"black","symbolStrokeWidth":1.4,"labelFont":"Liberation Sans, Arial, sans-serif","labelFontSize":16,"labelFontStyle":"italic","labelColor":"black","labelOffset":12,"rowPadding":2},
 "title":{"font":"Liberation Sans, Arial, sans-serif","fontSize":19,"fontWeight":"normal","anchor":"start","frame":"group","color":"black","offset":0},
 "bar":{"opacity":1}
}
}
